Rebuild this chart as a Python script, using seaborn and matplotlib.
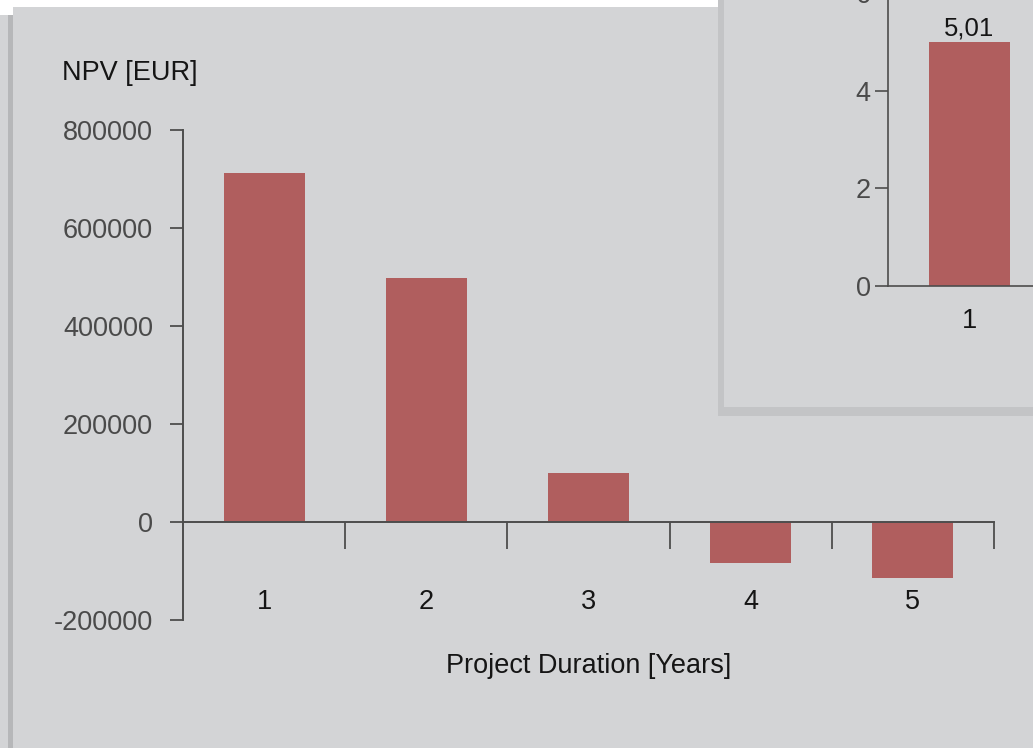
import matplotlib
matplotlib.use('Agg')

import matplotlib.pyplot as plt
from matplotlib.patches import Rectangle
import seaborn as sns

# data
years = ['1', '2', '3', '4', '5']
npv_eur = [712000, 498000, 100000, -83000, -114000]
npv_ticks = [-200000, 0, 200000, 400000, 600000, 800000]

inset_years = ['1']
inset_values = [5.01]
inset_labels = ['5,01']
inset_ticks = [0, 2, 4, 6]

W, H = 1033, 748
BG = '#d3d4d6'
SHADOW = '#c3c4c6'
BAR = '#b05e5e'
AXIS = '#4d4d4d'
TICKTXT = '#4a4a4a'
TXT = '#151515'
FS = 19.5

sns.set_style('ticks')
plt.rcParams['font.family'] = ['Liberation Sans', 'DejaVu Sans']


def px(x, y, w, h):
    # pixel box measured from the top-left corner -> figure fractions
    return [x / W, 1 - (y + h) / H, w / W, h / H]


def panel(x, y, w, h, color, z=1):
    fig.add_artist(Rectangle(px(x, y, w, h)[:2], w / W, h / H,
                             transform=fig.transFigure, facecolor=color,
                             edgecolor='none', zorder=z))


fig = plt.figure(figsize=(W / 100, H / 100), dpi=100, facecolor=BG)

# white page edges and left shadow of the main panel
panel(0, 0, 718, 7, 'white')
panel(0, 0, 13, 15, 'white')
panel(8, 15, 5, 733, '#b6b7b9')

# --- main chart ---
ax = fig.add_axes(px(183, 130, 811, 490))
ax.set_facecolor('none')
sns.barplot(x=years, y=npv_eur, color=BAR, width=0.5, saturation=1,
            linewidth=0, ax=ax)
ax.set_xlim(-0.5, 4.5)
ax.set_ylim(-200000, 800000)
ax.set_yticks(npv_ticks)
ax.set_yticklabels([str(t) for t in npv_ticks])
ax.set_xticks([0.5, 1.5, 2.5, 3.5, 4.5], minor=True)

sns.despine(ax=ax)
ax.spines['bottom'].set_position(('data', 0))
for s in ('left', 'bottom'):
    ax.spines[s].set_color(AXIS)
    ax.spines[s].set_linewidth(1.4)

ax.tick_params(axis='y', length=9.5, width=1.3, color=AXIS,
               labelcolor=TICKTXT, labelsize=FS, pad=12)
ax.tick_params(axis='x', which='major', length=0, pad=48,
               labelcolor=TXT, labelsize=FS)
ax.tick_params(axis='x', which='minor', length=19.5, width=1.3, color=AXIS)

ax.set_xlabel('Project Duration [Years]', fontsize=FS, color=TXT)
ax.xaxis.label.set_va('center')
ax.xaxis.set_label_coords(0.5, -0.094)
ax.set_ylabel('NPV [EUR]', fontsize=FS, color=TXT, rotation=0,
              ha='left', va='center')
ax.yaxis.set_label_coords(-0.149, 1.116)

# --- inset panel, cut by the right/top edge ---
panel(718, -10, 400, 426, SHADOW, z=1)
panel(724, -10, 400, 417, BG, z=1)

ax2 = fig.add_axes(px(888, -6.5, 811, 292.5))
ax2.set_zorder(2)
ax2.set_facecolor('none')
sns.barplot(x=inset_years, y=inset_values, color=BAR, width=0.5,
            saturation=1, linewidth=0, ax=ax2)
ax2.set_xlim(-0.5, 4.5)
ax2.set_ylim(0, 6)
ax2.set_yticks(inset_ticks)
ax2.bar_label(ax2.containers[0], labels=inset_labels, padding=1,
              fontsize=18.5, color=TXT)
sns.despine(ax=ax2)
for s in ('left', 'bottom'):
    ax2.spines[s].set_color(AXIS)
    ax2.spines[s].set_linewidth(1.2)
ax2.tick_params(axis='y', length=9.5, width=1.2, color=AXIS,
                labelcolor=TICKTXT, labelsize=FS, pad=3)
ax2.tick_params(axis='x', length=0, pad=16, labelcolor=TXT, labelsize=FS)
ax2.set_xlabel('')
ax2.set_ylabel('')

fig.savefig('out.png', dpi=100, facecolor=fig.get_facecolor())
